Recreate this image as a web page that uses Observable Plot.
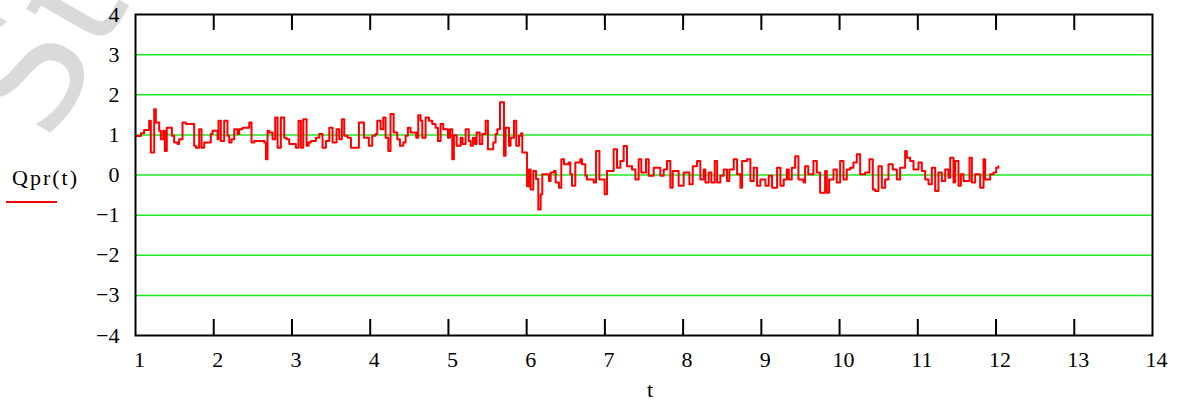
<!DOCTYPE html>
<html>
<head>
<meta charset="utf-8">
<script src="https://cdn.jsdelivr.net/npm/d3@7"></script>
<script src="https://cdn.jsdelivr.net/npm/@observablehq/plot@0.6"></script>
<style>
  html, body { margin: 0; padding: 0; background: #fff; }
  #wrap { position: relative; width: 1178px; height: 403px; overflow: hidden; }
  #wm { position: absolute; left: -80px; top: 70px; font-family: "DejaVu Sans", sans-serif; font-size: 160px; color: #dadada; transform: rotate(-60deg); transform-origin: 0 0; z-index: 0; white-space: nowrap; }
  #chart { position: absolute; left: 0; top: 0; z-index: 1; }
</style>
</head>
<body>
<div id="wrap"><div id="wm">Stu</div><div id="chart"></div></div>
<script>
const tVals = [1.00,1.07,1.11,1.175,1.196,1.239,1.26,1.303,1.324,1.354,1.375,1.40,1.465,1.494,1.537,1.558,1.601,1.644,1.75,1.772,1.814,1.844,1.878,1.963,1.985,2.049,2.061,2.091,2.134,2.176,2.198,2.228,2.262,2.304,2.326,2.368,2.454,2.483,2.517,2.645,2.667,2.688,2.709,2.752,2.786,2.816,2.858,2.901,2.931,2.965,3.05,3.084,3.114,3.144,3.187,3.212,3.242,3.306,3.349,3.391,3.434,3.477,3.519,3.57,3.604,3.638,3.668,3.711,3.754,
3.856,3.92,3.983,4.026,4.069,4.09,4.133,4.167,4.197,4.231,4.26,4.30,4.346,4.38,4.422,4.452,4.482,4.516,4.589,4.614,4.644,4.666,4.708,4.751,4.793,4.836,4.866,4.9,4.934,4.994,5.02,5.049,5.07,5.105,5.156,5.18,5.22,5.26,5.284,5.313,5.34,5.36,5.40,5.433,5.476,5.505,5.573,5.603,5.625,5.659,5.71,5.731,5.774,5.795,5.838,5.867,5.902,5.93,5.944,6.005,6.03,6.051,6.085,6.12,6.149,6.179,6.2,6.285,6.307,6.349,6.37,6.413,6.443,6.477,
6.537,6.558,6.58,6.622,6.686,6.707,6.75,6.771,6.857,6.887,6.93,6.997,7.027,7.112,7.155,7.198,7.24,7.283,7.347,7.39,7.432,7.466,7.526,7.56,7.624,7.709,7.752,7.794,7.837,7.867,7.943,8.007,8.08,8.123,8.178,8.22,8.263,8.285,8.327,8.361,8.404,8.434,8.476,8.519,8.561,8.591,8.647,8.69,8.733,8.754,8.817,8.86,8.903,8.945,8.988,9.052,9.095,9.137,9.201,9.244,9.286,
9.325,9.35,9.389,9.432,9.474,9.538,9.559,9.60,9.666,9.709,9.751,9.815,9.837,9.866,9.922,9.964,10.007,10.05,10.092,10.135,10.177,10.22,10.263,10.327,10.382,10.425,10.455,10.497,10.54,10.582,10.625,10.68,10.732,10.774,10.838,10.86,10.902,10.945,11.009,11.051,11.094,11.137,11.179,11.222,11.264,11.307,11.35,11.392,11.414,11.456,11.477,11.52,11.55,11.584,11.661,11.691,11.733,11.797,11.84,11.861,11.925,11.968,12.002,12.03];
const qVals = [0.97,1.04,1.12,1.35,0.56,1.64,1.31,1.10,0.89,1.10,0.60,1.18,0.98,0.81,0.77,0.89,1.31,1.27,0.73,0.68,1.14,0.68,0.81,1.02,1.10,0.89,1.35,0.85,1.35,0.98,0.81,0.89,1.14,1.02,1.14,1.18,1.31,0.81,0.85,0.81,0.39,1.10,1.06,0.89,1.43,0.68,1.43,0.93,0.89,0.77,0.68,1.35,0.68,1.39,0.73,0.81,0.85,0.93,1.02,0.68,0.85,1.18,0.81,1.14,0.89,1.39,0.98,0.93,0.68,
1.31,0.93,0.73,0.98,1.02,1.35,1.14,1.43,0.93,0.60,1.52,1.06,0.89,0.73,0.81,0.98,1.18,1.06,0.93,1.49,1.35,0.93,1.43,1.35,1.27,1.18,0.85,1.27,1.14,0.93,1.14,0.39,0.99,0.73,0.93,0.77,1.14,0.85,0.73,0.93,0.77,1.06,0.77,1.02,1.35,0.64,0.81,1.02,1.14,1.81,0.48,1.18,0.73,0.93,1.35,0.73,0.98,1.04,0.56,-0.28,0.14,-0.36,0.10,-0.10,-0.86,-0.48,0.02,-0.15,0.06,0.10,-0.19,-0.32,0.39,0.27,
0.31,0.02,-0.27,0.31,0.39,0.27,-0.02,-0.11,-0.19,0.60,-0.11,-0.48,0.10,0.64,0.18,0.35,0.72,0.22,0.14,-0.11,0.39,0.06,0.39,-0.02,0.18,-0.02,0.14,0.35,-0.32,0.10,-0.27,0.06,-0.23,0.22,0.35,-0.11,0.14,-0.19,0.06,-0.19,0.35,-0.19,-0.02,0.14,-0.15,0.14,0.39,0.02,-0.32,0.35,0.39,-0.15,0.18,-0.27,-0.11,-0.27,-0.02,-0.32,0.18,-0.27,-0.11,
0.14,-0.11,0.18,0.47,-0.11,-0.19,0.22,0.02,0.35,0.06,-0.44,0.10,-0.44,-0.11,0.14,-0.19,0.35,-0.11,0.14,0.18,0.31,0.52,0.02,0.06,0.39,-0.36,-0.40,0.22,-0.32,-0.11,0.27,0.14,-0.11,0.18,0.60,0.43,0.35,0.14,0.31,0.10,-0.11,-0.23,0.18,-0.40,0.06,-0.15,0.14,-0.07,0.43,-0.19,0.35,-0.27,0.02,-0.15,0.43,-0.19,0.02,-0.32,0.39,-0.11,0.02,0.06,0.18,0.22];
const xTicks = [1,2,3,4,5,6,7,8,9,10,11,12,13,14];
const yTicks = [-4,-3,-2,-1,0,1,2,3,4];
const gridVals = [-3,-2,-1,0,1,2,3];
const innerTicks = [2,3,4,5,6,7,8,9,10,11,12,13];
const seriesName = "Qpr(t)";
const xName = "t";

const data = tVals.map((t, i) => ({t, q: qVals[i]}));

const svg = Plot.plot({
  width: 1178,
  height: 403,
  marginLeft: 135,
  marginRight: 26,
  marginTop: 14,
  marginBottom: 68,
  style: {fontFamily: "Liberation Serif", fontSize: "22px", color: "#000", background: "transparent"},
  x: {domain: [1, 14], ticks: xTicks, tickSize: 0, tickPadding: 16, tickFormat: d3.format("d"), label: null},
  y: {domain: [-4, 4], ticks: yTicks, tickSize: 0, tickPadding: 16, tickFormat: d => d < 0 ? "\u2212" + Math.abs(d) : String(d), label: null},
  marks: [
    Plot.ruleY(gridVals, {stroke: "#1ee81e", strokeWidth: 1.5}),
    Plot.line(data, {x: "t", y: "q", curve: "step-after", stroke: "#ff0000", strokeWidth: 2}),
    Plot.ruleX(innerTicks, {insetTop: 305, stroke: "#000", strokeWidth: 2}),
    Plot.ruleX(innerTicks, {insetBottom: 305, stroke: "#000", strokeWidth: 2}),
    Plot.frame({stroke: "#000", strokeWidth: 2}),
    Plot.text([seriesName], {frameAnchor: "left", dx: -90, dy: 3, textAnchor: "middle", fontSize: 22, fontFamily: "Liberation Serif"}),
    Plot.text([xName], {frameAnchor: "bottom", dx: 6, dy: 61, textAnchor: "middle", fontSize: 22, fontFamily: "Liberation Serif"})
  ]
});
const root = d3.select(svg);
root.style("background", "transparent");
root.selectAll("text")
  .attr("font-family", "Liberation Serif")
  .attr("font-size", 22)
  .attr("fill", "#000");
root.selectAll("text").filter(function() { return this.textContent === seriesName; })
  .style("letter-spacing", "2px");
root.selectAll("g").filter(function() {
  const a = this.getAttribute("aria-label") || "";
  return a.indexOf("x-axis tick label") === 0;
}).attr("transform", function() {
  const t = this.getAttribute("transform") || "";
  return t + " translate(4,0)";
});
root.append("line")
  .attr("x1", 6).attr("x2", 57).attr("y1", 202).attr("y2", 202)
  .attr("stroke", "#ff0000").attr("stroke-width", 2);
document.getElementById("chart").appendChild(svg);
</script>
</body>
</html>
